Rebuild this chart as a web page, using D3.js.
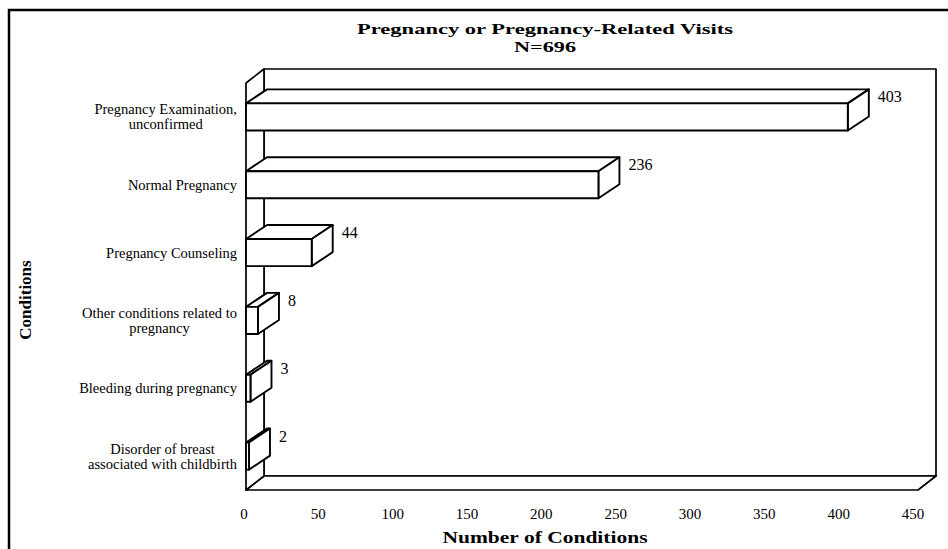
<!DOCTYPE html>
<html>
<head>
<meta charset="utf-8">
<script src="https://cdn.jsdelivr.net/npm/d3@7/dist/d3.min.js"></script>
<style>
  body { margin: 0; background: #fff; }
  text { font-family: "Liberation Serif", "Times New Roman", serif; fill: #000; }
</style>
</head>
<body>
<div id="chartArea"></div>
<script>
var categories = [
  ["Pregnancy Examination,", "unconfirmed"],
  ["Normal Pregnancy"],
  ["Pregnancy Counseling"],
  ["Other conditions related to", "pregnancy"],
  ["Bleeding during pregnancy"],
  ["Disorder of breast", "associated with childbirth"]
];
var counts = [403, 236, 44, 8, 3, 2];
var xTicks = [0, 50, 100, 150, 200, 250, 300, 350, 400, 450];
var titleLines = ["Pregnancy or Pregnancy-Related Visits", "N=696"];

function drawBars() {
  var W = 948, H = 549;
  var plot = { left: 246, right: 918, top: 83, bottom: 490 };
  var wallD = { dx: 18, dy: -14 }, barD = { dx: 21, dy: -14 };

  var svg = d3.select("#chartArea").append("svg")
    .attr("width", W).attr("height", H);

  // outer frame (right/bottom edges run off the page)
  svg.append("rect")
    .attr("x", 9).attr("y", 10).attr("width", 1000).attr("height", 600)
    .attr("fill", "none").attr("stroke", "#000").attr("stroke-width", 2.5);

  var x = d3.scaleLinear().domain([0, 450]).range([plot.left, plot.right]);
  // tick labels sit a touch left of the bar scale in the original
  var xLab = x.copy().range([244, 913]);
  var y = d3.scaleBand()
    .domain(d3.range(categories.length))
    .range([plot.top, plot.bottom])
    .paddingInner(0.6).paddingOuter(0.3);

  var line = function (pts) { return "M" + pts.map(function (p) { return p.join(","); }).join("L") + "Z"; };
  var frame = svg.append("g").attr("fill", "#fff").attr("stroke", "#000").attr("stroke-width", 1.7)
    .attr("stroke-linejoin", "round");

  // back wall
  frame.append("path").attr("d", line([
    [plot.left + wallD.dx, plot.top + wallD.dy],
    [plot.right + wallD.dx, plot.top + wallD.dy],
    [plot.right + wallD.dx, plot.bottom + wallD.dy],
    [plot.left + wallD.dx, plot.bottom + wallD.dy]
  ]));
  // floor
  frame.append("path").attr("d", line([
    [plot.left, plot.bottom],
    [plot.right, plot.bottom],
    [plot.right + wallD.dx, plot.bottom + wallD.dy],
    [plot.left + wallD.dx, plot.bottom + wallD.dy]
  ]));
  // left wall
  frame.append("path").attr("d", line([
    [plot.left, plot.top],
    [plot.left + wallD.dx, plot.top + wallD.dy],
    [plot.left + wallD.dx, plot.bottom + wallD.dy],
    [plot.left, plot.bottom]
  ]));

  // 3d bars
  var bars = svg.append("g").attr("fill", "#fff").attr("stroke", "#000").attr("stroke-width", 1.9)
    .attr("stroke-linejoin", "round")
    .selectAll("g").data(counts).enter().append("g");

  bars.append("path").attr("d", function (d, i) {
    var x0 = x(0), x1 = x(d), y0 = y(i);
    return line([[x0, y0], [x1, y0], [x1 + barD.dx, y0 + barD.dy], [x0 + barD.dx, y0 + barD.dy]]);
  });
  bars.append("path").attr("d", function (d, i) {
    var x1 = x(d), y0 = y(i), y1 = y(i) + y.bandwidth();
    return line([[x1, y0], [x1 + barD.dx, y0 + barD.dy], [x1 + barD.dx, y1 + barD.dy], [x1, y1]]);
  });
  bars.append("rect")
    .attr("x", x(0))
    .attr("y", function (d, i) { return y(i); })
    .attr("width", function (d) { return x(d) - x(0); })
    .attr("height", y.bandwidth());

  // value labels
  svg.append("g").selectAll("text").data(counts).enter().append("text")
    .attr("x", function (d) { return x(d) + barD.dx + 9; })
    .attr("y", function (d, i) { return y(i) - 1; })
    .style("font-size", "16px")
    .text(function (d) { return d; });

  // x tick labels
  svg.append("g").selectAll("text").data(xTicks).enter().append("text")
    .attr("x", function (d) { return xLab(d); })
    .attr("y", 519)
    .attr("text-anchor", "middle")
    .style("font-size", "15px")
    .text(function (d) { return d; });

  // category labels, lines centred on each other, block right-aligned
  var lab = svg.append("g").selectAll("g").data(categories).enter().append("g");
  lab.each(function (lines, i) {
    var g = d3.select(this);
    var cy = y(i) + y.bandwidth() / 2;
    var t = g.selectAll("text").data(lines).enter().append("text")
      .attr("y", function (s, j) { return cy + 5 + (j - (lines.length - 1) / 2) * 15; })
      .attr("text-anchor", "middle")
      .style("font-size", "14.5px")
      .text(function (s) { return s; });
    var maxW = d3.max(t.nodes(), function (n) { return n.getComputedTextLength(); });
    t.attr("x", 237 - maxW / 2);
  });

  // titles (the original's bold face runs wide)
  var titleW = [376, 62];
  svg.append("g").selectAll("text").data(titleLines).enter().append("text")
    .attr("x", 545)
    .attr("y", function (d, i) { return 34 + i * 17.5; })
    .attr("text-anchor", "middle")
    .attr("textLength", function (d, i) { return titleW[i]; })
    .attr("lengthAdjust", "spacingAndGlyphs")
    .style("font-size", "15.5px").style("font-weight", "bold")
    .text(function (d) { return d; });

  svg.append("text")
    .attr("x", 545).attr("y", 543)
    .attr("text-anchor", "middle")
    .attr("textLength", 205)
    .attr("lengthAdjust", "spacingAndGlyphs")
    .style("font-size", "16px").style("font-weight", "bold")
    .text("Number of Conditions");

  svg.append("text")
    .attr("transform", "translate(31,300) rotate(-90)")
    .attr("text-anchor", "middle")
    .style("font-size", "17px").style("font-weight", "bold")
    .text("Conditions");
}

drawBars();
</script>
</body>
</html>
